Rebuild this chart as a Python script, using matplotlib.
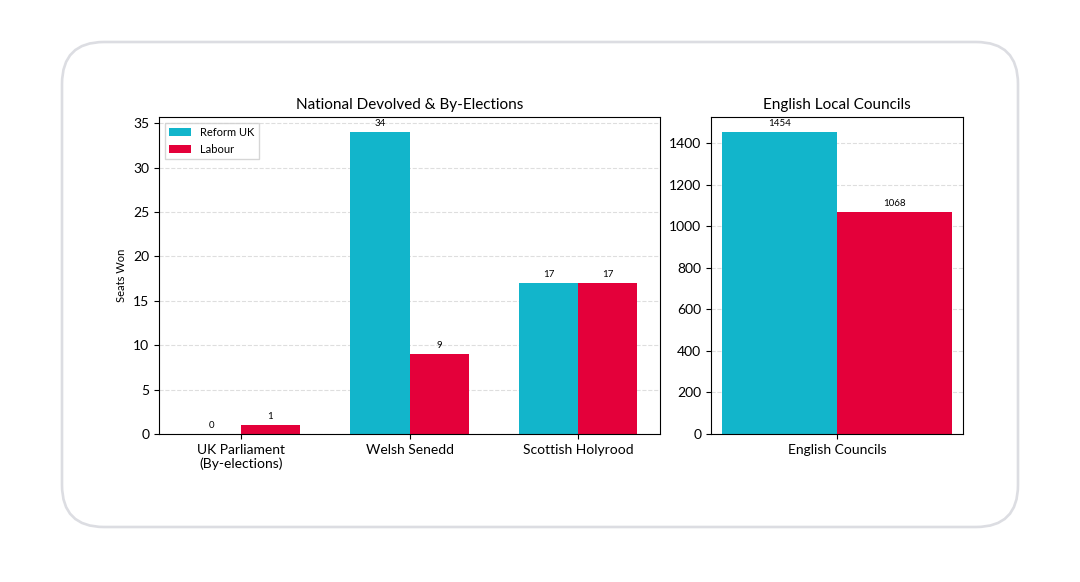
import matplotlib
matplotlib.use("Agg")
import matplotlib.pyplot as plt
import numpy as np
from matplotlib.patches import FancyBboxPatch
from matplotlib.transforms import IdentityTransform

plt.rcParams['font.family'] = ['Lato', 'DejaVu Sans']

categories = ["UK Parliament\n(By-elections)", "Welsh Senedd", "Scottish Holyrood"]
reform_national = [0, 34, 17]
labour_national = [1, 9, 17]
council_category = ["English Councils"]
reform_council = [1454]
labour_council = [1068]
series_names = ["Reform UK", "Labour"]

REFORM = "#12B5CB"
LABOUR = "#E4003A"

fig = plt.figure(figsize=(10.8, 5.82), dpi=100)

card = FancyBboxPatch((62, 582 - 527), 956, 485,
                      boxstyle="round,pad=0,rounding_size=42",
                      transform=IdentityTransform(), facecolor="none",
                      edgecolor="#dcdde2", linewidth=1.9, zorder=-1)
fig.patches.append(card)

ax1 = fig.add_axes([159/1080, 1 - 434/582, 501/1080, 317/582])
ax2 = fig.add_axes([711/1080, 1 - 434/582, 252/1080, 317/582])

w = 0.35
x = np.arange(len(categories))
b1 = ax1.bar(x - w/2, reform_national, w, color=REFORM, label=series_names[0])
b2 = ax1.bar(x + w/2, labour_national, w, color=LABOUR, label=series_names[1])
ax1.bar_label(b1, padding=3, fontsize=7)
ax1.bar_label(b2, padding=3, fontsize=7)
ax1.set_xticks(x)
ax1.set_xticklabels(categories, fontsize=10)
ax1.set_ylabel("Seats Won", fontsize=8)
ax1.set_title("National Devolved & By-Elections", fontsize=11)
ax1.legend(loc="upper left", fontsize=8, edgecolor="#cccccc", fancybox=False)

x2 = np.arange(len(council_category))
c1 = ax2.bar(x2 - w/2, reform_council, w, color=REFORM)
c2 = ax2.bar(x2 + w/2, labour_council, w, color=LABOUR)
ax2.bar_label(c1, padding=3, fontsize=7)
ax2.bar_label(c2, padding=3, fontsize=7)
ax2.set_xticks(x2)
ax2.set_xticklabels(council_category, fontsize=10)
ax2.set_title("English Local Councils", fontsize=11)

for ax in (ax1, ax2):
    ax.set_axisbelow(True)
    ax.yaxis.grid(True, linestyle="--", color="#d0d0d0", alpha=0.7, linewidth=0.8)
    ax.tick_params(axis="y", labelsize=10)

fig.savefig("out.png", dpi=100, facecolor="white")
